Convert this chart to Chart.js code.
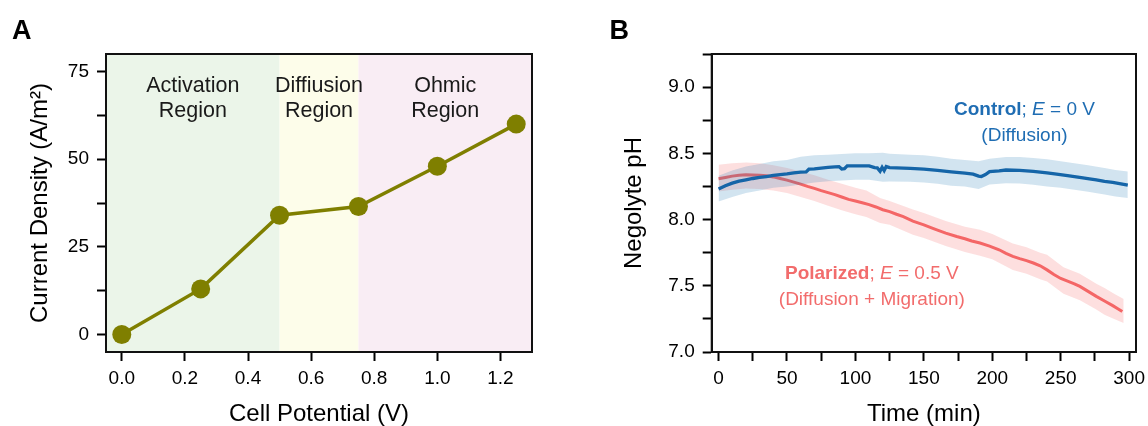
<!DOCTYPE html>
<html>
<head>
<meta charset="utf-8">
<script src="https://cdn.jsdelivr.net/npm/chart.js@4.4.1/dist/chart.umd.min.js"></script>
<style>
  html, body { margin: 0; padding: 0; background: #fff; }
  body { width: 1148px; height: 426px; position: relative; overflow: hidden; }
  .panel { position: absolute; top: 0; width: 574px; height: 426px; }
  #panelA { left: 0; }
  #panelB { left: 574px; }
</style>
</head>
<body>
<div class="panel" id="panelA"><canvas id="chartA" width="574" height="426"></canvas></div>
<div class="panel" id="panelB"><canvas id="chartB" width="574" height="426"></canvas></div>
<script>
// ---- Panel A: polarization curve ----
const potential = [0, 0.25, 0.5, 0.75, 1.0, 1.25];
const currentDensity = [0, 13, 34, 36.5, 48, 60];
const regionEdges = [-0.05, 0.5, 0.75, 1.3];
const regionNames = [['Activation', 'Region'], ['Diffiusion', 'Region'], ['Ohmic', 'Region']];
const regionColors = ['#ebf5e9', '#fdfdea', '#f9edf4'];

// ---- Panel B: negolyte pH vs time ----
const controlTime = [0, 5, 10, 15, 20, 25, 30, 35, 40, 45, 50, 55, 60, 64, 66, 70, 75, 80, 85, 88,
  90, 92, 94, 100, 105, 110, 114, 116, 118, 119.5, 121, 122.5, 125, 130, 140, 150, 160, 170, 180,
  186, 190, 192, 195, 198, 205, 210, 220, 230, 235, 240, 247, 255, 260, 265, 271, 276, 282, 288, 294, 299];
const controlPH = [8.23, 8.255, 8.275, 8.29, 8.30, 8.31, 8.318, 8.325, 8.333, 8.34, 8.345, 8.352, 8.358, 8.36, 8.38, 8.382, 8.388, 8.394, 8.398, 8.40,
  8.382, 8.384, 8.405, 8.406, 8.406, 8.405, 8.392, 8.39, 8.365, 8.395, 8.37, 8.40, 8.392, 8.39, 8.386, 8.381, 8.372, 8.36, 8.35,
  8.343, 8.328, 8.325, 8.34, 8.362, 8.368, 8.374, 8.372, 8.364, 8.358, 8.352, 8.343, 8.332, 8.325, 8.317, 8.308, 8.30, 8.288, 8.28, 8.27, 8.26];

const controlBandTime = [0, 10, 20, 30, 40, 50, 60, 70, 80, 90, 100, 110, 120, 125, 140, 150, 160, 170, 180, 190,
  198, 210, 220, 230, 240, 250, 260, 270, 282, 290, 299];
const controlUpper = [8.33, 8.37, 8.40, 8.42, 8.44, 8.45, 8.475, 8.485, 8.49, 8.495, 8.50, 8.50, 8.505, 8.497, 8.49, 8.485, 8.475, 8.46, 8.45, 8.44,
  8.46, 8.472, 8.472, 8.465, 8.455, 8.44, 8.425, 8.41, 8.39, 8.375, 8.363];
const controlLower = [8.137, 8.17, 8.20, 8.22, 8.24, 8.25, 8.265, 8.28, 8.29, 8.295, 8.30, 8.30, 8.285, 8.288, 8.285, 8.28, 8.27, 8.255, 8.25, 8.23,
  8.265, 8.275, 8.272, 8.262, 8.25, 8.24, 8.225, 8.21, 8.19, 8.175, 8.162];

const polarizedTime = [0, 5, 10, 15, 20, 25, 30, 35, 40, 45, 50, 55, 60, 65, 70, 75, 80, 85, 90, 95,
  100, 105, 110, 115, 120, 125, 130, 135, 142, 150, 158, 166, 174, 180, 185, 191, 198, 205, 210, 215,
  220, 225, 230, 235, 240, 245, 250, 255, 260, 264, 270, 276, 282, 288, 292, 295];
const polarizedPH = [8.308, 8.318, 8.328, 8.334, 8.338, 8.337, 8.335, 8.331, 8.322, 8.31, 8.298, 8.283, 8.268, 8.25, 8.235, 8.218, 8.203, 8.188, 8.17, 8.152,
  8.14, 8.127, 8.113, 8.095, 8.074, 8.06, 8.04, 8.022, 7.988, 7.96, 7.928, 7.898, 7.872, 7.855, 7.838, 7.823, 7.80, 7.772, 7.745, 7.722,
  7.705, 7.69, 7.672, 7.651, 7.62, 7.585, 7.555, 7.535, 7.515, 7.495, 7.458, 7.42, 7.385, 7.35, 7.325, 7.305];

const polarizedBandTime = [0, 10, 20, 30, 40, 50, 60, 70, 80, 90, 100, 108, 118, 125, 142, 150, 166, 180, 191, 200,
  215, 225, 235, 240, 252, 264, 276, 282, 289, 296];
const polarizedUpper = [8.414, 8.425, 8.43, 8.425, 8.41, 8.39, 8.363, 8.335, 8.30, 8.27, 8.24, 8.22, 8.162, 8.14, 8.075, 8.05, 7.99, 7.945, 7.923, 7.89,
  7.82, 7.79, 7.75, 7.734, 7.64, 7.59, 7.515, 7.483, 7.44, 7.40];
const polarizedLower = [8.212, 8.225, 8.235, 8.23, 8.22, 8.20, 8.17, 8.14, 8.105, 8.07, 8.04, 8.019, 7.974, 7.96, 7.885, 7.86, 7.80, 7.755, 7.727, 7.70,
  7.62, 7.59, 7.55, 7.533, 7.44, 7.39, 7.32, 7.281, 7.25, 7.219];

const FONT = '"Liberation Sans", Arial, Helvetica, sans-serif';
Chart.defaults.font.family = FONT;
Chart.defaults.font.size = 19;
Chart.defaults.color = '#000';

const pts = (xs, ys) => xs.map((x, i) => ({ x, y: ys[i] }));

// box around the plotting area plus the panel letter
const frame = {
  id: 'frame',
  beforeDatasetsDraw(chart) {
    const { ctx, chartArea: a } = chart;
    ctx.save();
    ctx.strokeStyle = '#111';
    ctx.lineWidth = 2;
    ctx.strokeRect(a.left, a.top, a.right - a.left, a.bottom - a.top);
    ctx.restore();
  },
  afterDraw(chart, args, opts) {
    const ctx = chart.ctx;
    ctx.save();
    ctx.fillStyle = '#000';
    ctx.font = 'bold 27px ' + FONT;
    ctx.textBaseline = 'alphabetic';
    ctx.fillText(opts.letter, opts.x, 39.3);
    ctx.restore();
  }
};

// shaded regions behind the curve, then their names on top
const regionShading = {
  id: 'regionShading',
  beforeDraw(chart) {
    const { ctx, chartArea: a, scales: { x } } = chart;
    const edges = regionEdges.map(v => x.getPixelForValue(v));
    ctx.save();
    regionColors.forEach((c, i) => {
      ctx.fillStyle = c;
      ctx.fillRect(edges[i], a.top, edges[i + 1] - edges[i], a.bottom - a.top);
    });
    ctx.font = '21.5px ' + FONT;
    ctx.textAlign = 'center';
    ctx.textBaseline = 'alphabetic';
    ctx.fillStyle = '#1a1a1a';
    regionNames.forEach((lines, i) => {
      const cx = (edges[i] + edges[i + 1]) / 2;
      lines.forEach((line, j) => ctx.fillText(line, cx, a.top + 37.7 + j * 25.6));
    });
    ctx.restore();
  }
};

// text made of runs with different weight / style, centred on cx
function drawRuns(ctx, runs, cx, y, color) {
  const fontFor = r => (r.style || '') + ' ' + (r.weight || '') + ' 19px ' + FONT;
  let total = 0;
  runs.forEach(r => { ctx.font = fontFor(r); total += ctx.measureText(r.text).width; });
  let x = cx - total / 2;
  ctx.fillStyle = color;
  ctx.textAlign = 'left';
  ctx.textBaseline = 'alphabetic';
  runs.forEach(r => { ctx.font = fontFor(r); ctx.fillText(r.text, x, y); x += ctx.measureText(r.text).width; });
}

const seriesLabels = {
  id: 'seriesLabels',
  afterDatasetsDraw(chart) {
    const { ctx, scales: { x, y } } = chart;
    ctx.save();
    const cx1 = x.getPixelForValue(223.5), cy1 = y.getPixelForValue(8.786);
    drawRuns(ctx, [{ text: 'Control', weight: 'bold' }, { text: '; ' }, { text: 'E', style: 'italic' }, { text: ' = 0 V' }], cx1, cy1, '#1f6db3');
    drawRuns(ctx, [{ text: '(Diffusion)' }], cx1, cy1 + 26, '#1f6db3');
    const cx2 = x.getPixelForValue(112), cy2 = y.getPixelForValue(7.551);
    drawRuns(ctx, [{ text: 'Polarized', weight: 'bold' }, { text: '; ' }, { text: 'E', style: 'italic' }, { text: ' = 0.5 V' }], cx2, cy2, '#f26c6c');
    drawRuns(ctx, [{ text: '(Diffusion + Migration)' }], cx2, cy2 + 26.4, '#f26c6c');
    ctx.restore();
  }
};

function axisStyle() {
  return {
    grid: { display: true, drawOnChartArea: false, drawTicks: true, tickLength: 9, tickWidth: 2, tickColor: '#000' },
    border: { display: true, color: '#111', width: 2 }
  };
}

function xAxis(min, max, step, fmt) {
  return Object.assign(axisStyle(), {
    type: 'linear', min, max,
    ticks: { stepSize: step, includeBounds: false, autoSkip: false, maxRotation: 0, padding: 6, callback: fmt },
    afterFit(s) { s.height = 74; s.paddingLeft = 0; s.paddingRight = 0; }
  });
}

function yAxis(min, max, step, fmt, width) {
  return Object.assign(axisStyle(), {
    type: 'linear', min, max,
    ticks: { stepSize: step, includeBounds: false, autoSkip: false, padding: 8, callback: fmt },
    afterFit(s) { s.width = width; s.paddingTop = 0; s.paddingBottom = 0; }
  });
}

function title(text, pad, isY) {
  return {
    display: true, text, color: '#000',
    font: { size: 24, lineHeight: 1 },
    padding: isY ? { top: pad, bottom: 0 } : { top: 0, bottom: pad }
  };
}

// ---- Chart A ----
const scalesA = {
  x: xAxis(-0.05, 1.3, 0.2, v => v.toFixed(1)),
  y: yAxis(-5, 80, 12.5, v => (v % 25 === 0 ? String(v) : ''), 106)
};
scalesA.x.title = title('Cell Potential (V)', 0, false);
scalesA.y.title = title('Current Density (A/m²)', 28, true);

new Chart(document.getElementById('chartA'), {
  type: 'line',
  data: {
    datasets: [{
      data: pts(potential, currentDensity),
      borderColor: '#7f7f00',
      backgroundColor: '#7f7f00',
      borderWidth: 3.5,
      pointRadius: 9.5,
      pointBorderWidth: 0,
      pointBackgroundColor: '#7f7f00',
      tension: 0
    }]
  },
  options: {
    responsive: false,
    animation: false,
    layout: { padding: { top: 54, right: 42, left: 0, bottom: 0 } },
    plugins: { legend: { display: false }, tooltip: { enabled: false }, frame: { letter: 'A', x: 12 } },
    scales: scalesA
  },
  plugins: [regionShading, frame]
});

// ---- Chart B ----
const scalesB = {
  x: xAxis(-5, 305, 25, v => (v % 50 === 0 ? String(v) : '')),
  y: yAxis(7, 9.25, 0.25, v => (Math.abs(v * 2 - Math.round(v * 2)) < 1e-6 ? v.toFixed(1) : ''), 137.7)
};
scalesB.x.title = title('Time (min)', 0, false);
scalesB.y.title = title('Negolyte pH', 48, true);

const band = (xs, ys, color, fill, order) => ({
  data: pts(xs, ys), borderWidth: 0, pointRadius: 0, backgroundColor: color, fill, order, tension: 0
});
const trace = (xs, ys, color, width, order) => ({
  data: pts(xs, ys), borderColor: color, borderWidth: width, pointRadius: 0, fill: false, order, tension: 0
});

new Chart(document.getElementById('chartB'), {
  type: 'line',
  data: {
    datasets: [
      trace(controlTime, controlPH, '#1565a8', 3.3, 0),
      band(controlBandTime, controlUpper, 'rgba(31,119,180,0.2)', '+1', 1),
      band(controlBandTime, controlLower, 'rgba(31,119,180,0.2)', false, 2),
      trace(polarizedTime, polarizedPH, '#f46666', 3, 3),
      band(polarizedBandTime, polarizedUpper, 'rgba(244,96,96,0.2)', '+1', 4),
      band(polarizedBandTime, polarizedLower, 'rgba(244,96,96,0.2)', false, 5)
    ]
  },
  options: {
    responsive: false,
    animation: false,
    layout: { padding: { top: 54, right: 12, left: 0, bottom: 0 } },
    plugins: {
      legend: { display: false }, tooltip: { enabled: false },
      filler: { drawTime: 'beforeDatasetDraw' },
      frame: { letter: 'B', x: 35.6 }
    },
    scales: scalesB
  },
  plugins: [frame, seriesLabels]
});
</script>
</body>
</html>
